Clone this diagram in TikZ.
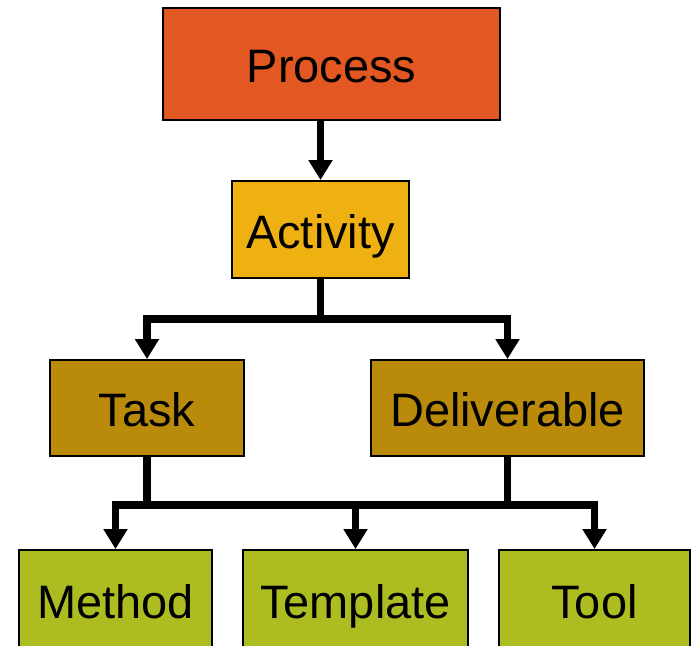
\documentclass[tikz,border=0pt]{standalone}
\usepackage{fontspec}
\setmainfont{Liberation Sans}
\usetikzlibrary{arrows.meta}

\definecolor{procred}{RGB}{227,87,34}
\definecolor{actgold}{RGB}{239,176,17}
\definecolor{taskbrown}{RGB}{186,138,11}
\definecolor{toolgreen}{RGB}{173,188,33}

\begin{document}
\begin{tikzpicture}[>={Triangle[width=0.46cm,length=0.4cm]},
  font=\fontsize{26.7}{32}\selectfont,
  box/.style={draw=black, line width=1.1pt, minimum height=1.92cm, inner sep=0pt,
    text height=0.84cm, text depth=0.1cm},
  link/.style={line width=4.5pt, line join=miter}]
\useasboundingbox (0,0) rectangle (13.84,-12.9);
% boxes, top to bottom
\node[box, fill=procred, minimum width=6.74cm, minimum height=2.24cm] (proc) at (6.63,-1.28) {Process};
\node[box, fill=actgold, minimum width=3.54cm, minimum height=1.94cm] (act) at (6.41,-4.59) {Activity};
\node[box, fill=taskbrown, minimum width=3.88cm] (task) at (2.94,-8.16) {Task};
\node[box, fill=taskbrown, minimum width=5.46cm] (deliv) at (10.15,-8.16) {Deliverable};
% bottom row runs off the lower edge
\node[box, fill=toolgreen, minimum width=3.86cm, minimum height=2cm] (meth) at (2.31,-12) {Method};
\node[box, fill=toolgreen, minimum width=4.5cm, minimum height=2cm] (tmpl) at (7.11,-12) {Template};
\node[box, fill=toolgreen, minimum width=3.82cm, minimum height=2cm] (tool) at (11.89,-12) {Tool};
% junction points on the two bars
\coordinate (j1) at (6.41,-6.38);
\coordinate (j2) at (2.94,-10.1);
\coordinate (j3) at (10.15,-10.1);
% process to activity
\draw[link, ->] (act.north |- proc.south) -- (act.north);
% activity splits into task and deliverable
\draw[link] (act.south) -- (j1);
\draw[link, ->] (j1) -| (task.north);
\draw[link, ->] (j1) -| (deliv.north);
% task and deliverable feed the bottom row
\draw[link] (task.south) -- (j2);
\draw[link] (deliv.south) -- (j3);
\draw[link] (j2) -- (j3);
\draw[link, ->] (j2) -| (meth.north);
\draw[link, ->] (tmpl.north |- j2) -- (tmpl.north);
\draw[link, ->] (j3) -| (tool.north);
\end{tikzpicture}
\end{document}
